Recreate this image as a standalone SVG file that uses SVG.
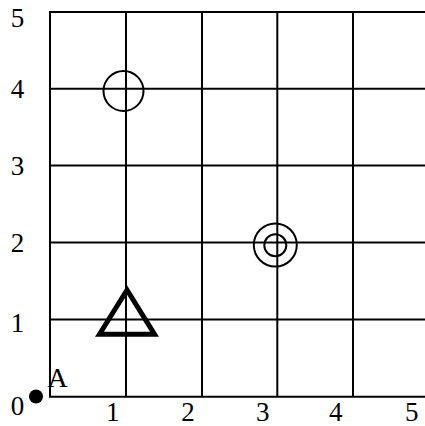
<svg xmlns="http://www.w3.org/2000/svg" width="425" height="426" viewBox="0 0 425 426">
<style>
.g{stroke:#000;stroke-width:2;fill:none}
.lbl{font-family:"Liberation Serif",serif;font-size:27px;fill:#000}
.sym{stroke:#000;fill:none}
</style>
<rect width="425" height="426" fill="#fff"/>
<g id="grid" class="g">
<line x1="50" y1="12" x2="50" y2="397"/>
<line x1="126" y1="12" x2="126" y2="397"/>
<line x1="202" y1="12" x2="202" y2="397"/>
<line x1="277.3" y1="12" x2="277.3" y2="397"/>
<line x1="353" y1="12" x2="353" y2="397"/>
<line x1="49" y1="12" x2="425" y2="12"/>
<line x1="49" y1="88.8" x2="425" y2="88.8"/>
<line x1="49" y1="165.6" x2="425" y2="165.6"/>
<line x1="49" y1="242.6" x2="425" y2="242.6"/>
<line x1="49" y1="319.5" x2="425" y2="319.5"/>
<line x1="49" y1="396.7" x2="425" y2="396.7"/>
</g>
<g id="ylabels" class="lbl" text-anchor="middle">
<text x="17.5" y="26.5">5</text>
<text x="17.5" y="98">4</text>
<text x="17.5" y="175">3</text>
<text x="17.5" y="252">2</text>
<text x="17.5" y="332">1</text>
<text x="17.5" y="415">0</text>
</g>
<g id="xlabels" class="lbl" text-anchor="middle">
<text x="112.7" y="420.5">1</text>
<text x="188" y="420.5">2</text>
<text x="262.7" y="420.5">3</text>
<text x="335.7" y="420.5">4</text>
<text x="411.7" y="420.5">5</text>
</g>
<g id="circle14"><circle class="sym" cx="123.5" cy="91" r="20" stroke-width="2"/></g>
<g id="target32"><circle class="sym" cx="275.3" cy="245" r="21.5" stroke-width="2"/><circle class="sym" cx="275.3" cy="245.2" r="11" stroke-width="2"/></g>
<g id="triangle11"><polygon class="sym" points="127,290 99.5,334.2 154.5,334.2" stroke-width="5"/></g>
<g id="pointA"><circle cx="36" cy="396.5" r="7" fill="#000"/><text class="lbl" x="47.5" y="386.5" style="font-size:28px">A</text></g>
</svg>
